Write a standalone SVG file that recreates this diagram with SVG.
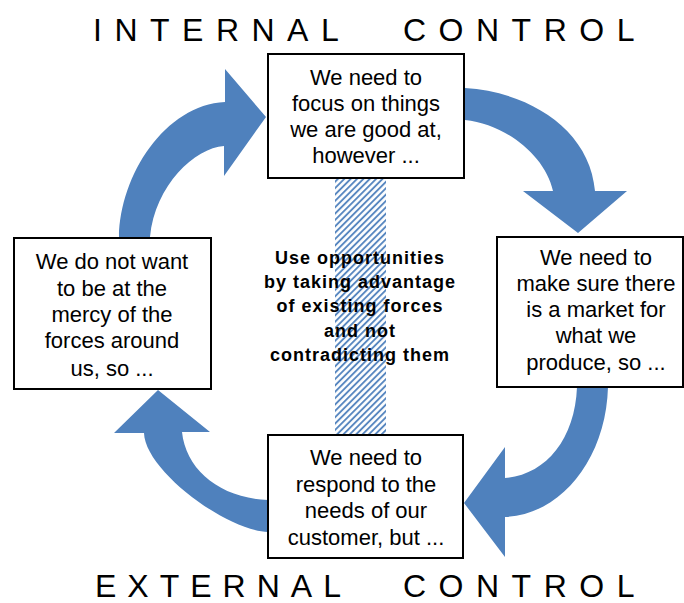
<svg xmlns="http://www.w3.org/2000/svg" width="684" height="603" viewBox="0 0 684 603">
  <style>
    .box { fill: #ffffff; stroke: #000000; stroke-width: 2; }
    .arrow { fill: #4f81bd; stroke: none; }
    .t { font-family: "Liberation Sans", Arial, sans-serif; font-size: 22px; fill: #000000; text-anchor: middle; }
    .c { font-family: "Liberation Sans", Arial, sans-serif; font-size: 18px; font-weight: bold; letter-spacing: 1px; fill: #000000; text-anchor: middle; }
    .title { font-family: "Liberation Sans", Arial, sans-serif; font-size: 32px; fill: #000000; }
  </style>
  <defs>
    <pattern id="hatch" patternUnits="userSpaceOnUse" width="4.5" height="4.5" patternTransform="rotate(45)">
      <rect x="0" y="0" width="4.5" height="4.5" fill="#ffffff"/>
      <line x1="1" y1="0" x2="1" y2="4.5" stroke="#4f81bd" stroke-width="1.8"/>
    </pattern>
  </defs>
  <rect width="684" height="603" fill="#ffffff"/>

  <g id="titles">
    <text class="title" x="93" y="41" letter-spacing="12.5">INTERNAL</text>
    <text class="title" x="403" y="41" letter-spacing="12.5">CONTROL</text>
    <text class="title" x="95" y="597" letter-spacing="11">EXTERNAL</text>
    <text class="title" x="403" y="597" letter-spacing="12.5">CONTROL</text>
  </g>

  <g id="center">
    <rect x="335" y="178" width="51" height="257" fill="url(#hatch)"/>
    <text class="c" x="360" y="264">Use opportunities</text>
    <text class="c" x="360" y="288">by taking advantage</text>
    <text class="c" x="360" y="312">of existing forces</text>
    <text class="c" x="360" y="337">and not</text>
    <text class="c" x="360" y="361">contradicting them</text>
  </g>

  <g id="connectors">
    <path class="arrow" d="M119,237 C120,175 165,105 225,102 L225,69 L266,117 L224,176 L224,146 C195,148 155,185 150,237 Z"/>
    <path class="arrow" d="M465,88 C530,92 590,130 595,191 L627,191 L578,233 L523,191 L553,191 C545,155 505,124 465,120 Z"/>
    <path class="arrow" d="M608,387 C606,460 560,515 505,517 L505,557 L464,503 L505,447 L505,478 C545,475 575,440 577,387 Z"/>
    <path class="arrow" d="M268,532 C225,530 145,470 144,433 L114,433 L158,390 L210,432 L182,432 C186,470 220,498 268,500 Z"/>
  </g>

  <g id="node-top">
    <rect class="box" x="268" y="54" width="196" height="124"/>
    <text class="t" x="366" y="85">We need to</text>
    <text class="t" x="366" y="111">focus on things</text>
    <text class="t" x="366" y="137">we are good at,</text>
    <text class="t" x="366" y="163">however ...</text>
  </g>

  <g id="node-right">
    <rect class="box" x="497" y="237" width="186" height="150"/>
    <text class="t" x="596" y="265">We need to</text>
    <text class="t" x="596" y="291">make sure there</text>
    <text class="t" x="596" y="317">is a market for</text>
    <text class="t" x="596" y="343">what we</text>
    <text class="t" x="596" y="370">produce, so ...</text>
  </g>

  <g id="node-bottom">
    <rect class="box" x="268" y="435" width="195" height="123"/>
    <text class="t" x="366" y="465">We need to</text>
    <text class="t" x="366" y="492">respond to the</text>
    <text class="t" x="366" y="518">needs of our</text>
    <text class="t" x="366" y="545">customer, but ...</text>
  </g>

  <g id="node-left">
    <rect class="box" x="14" y="238" width="197" height="151"/>
    <text class="t" x="112" y="269">We do not want</text>
    <text class="t" x="112" y="296">to be at the</text>
    <text class="t" x="112" y="322">mercy of the</text>
    <text class="t" x="112" y="348">forces around</text>
    <text class="t" x="112" y="376">us, so ...</text>
  </g>
</svg>
